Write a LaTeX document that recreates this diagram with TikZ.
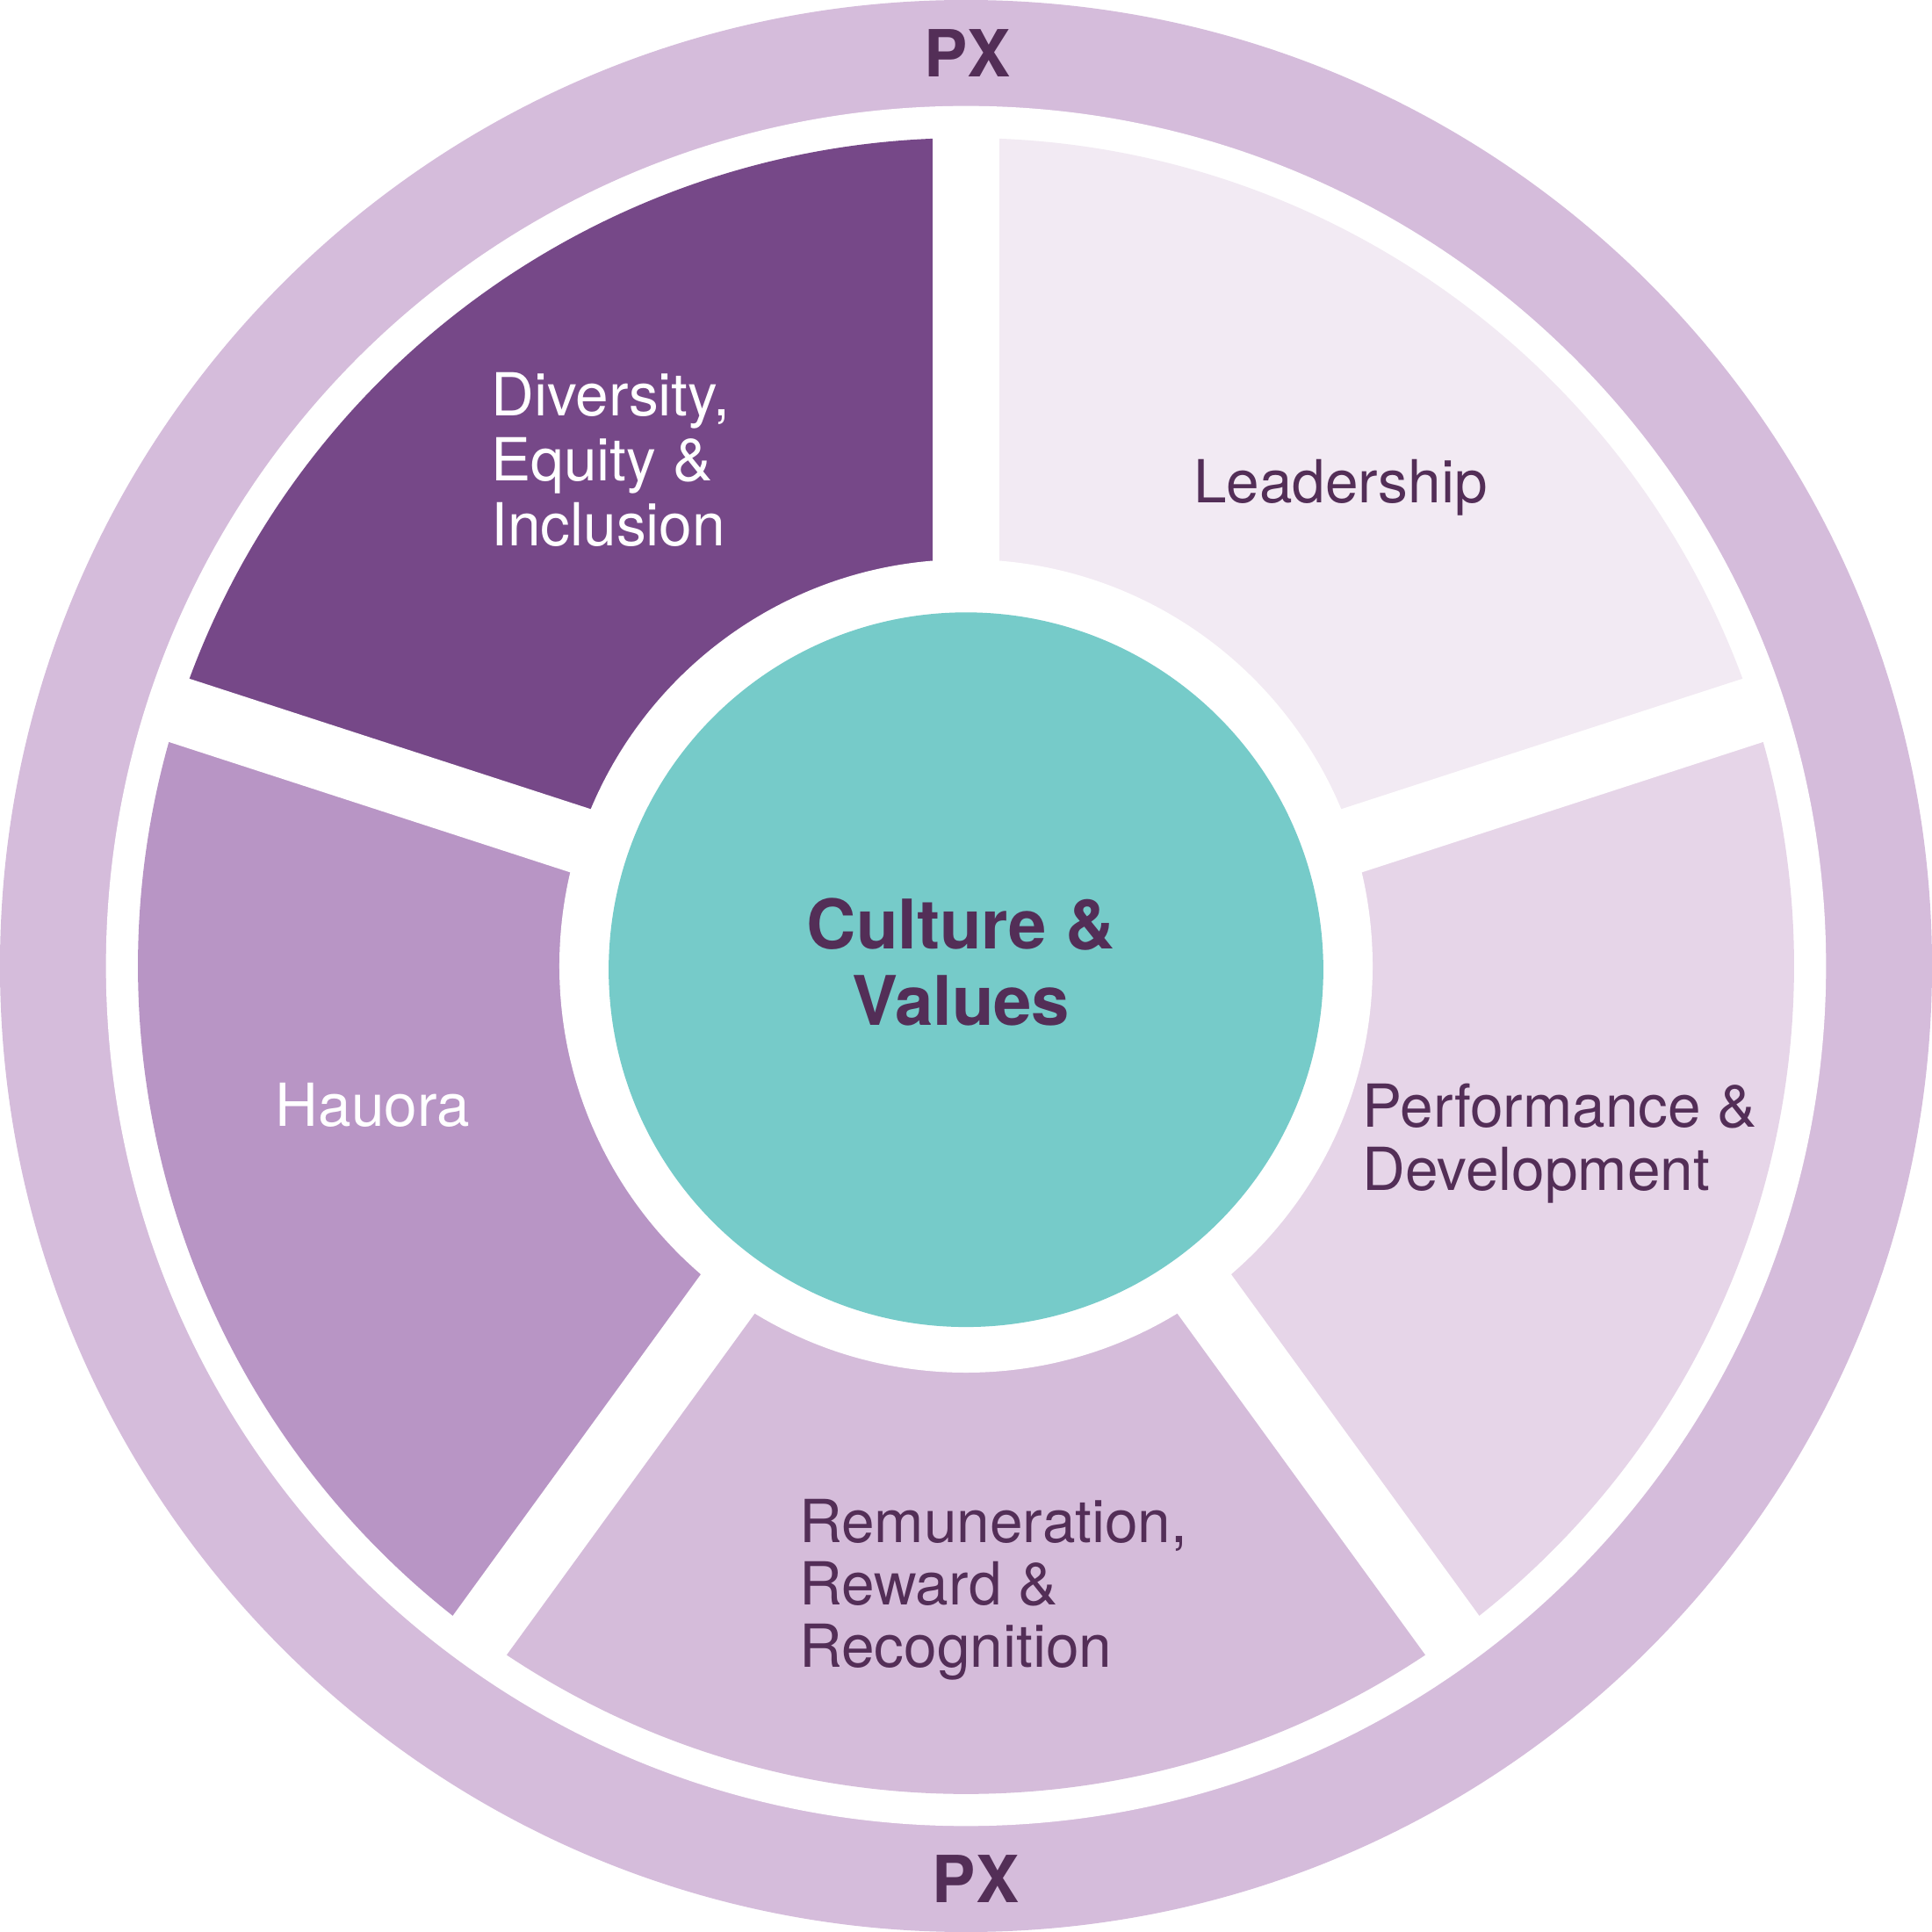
\documentclass[tikz,border=0pt]{standalone}
\usepackage{fontspec}
\setmainfont{TeX Gyre Heros}
\definecolor{ringc}{HTML}{D5BCDB}
\definecolor{deic}{HTML}{764888}
\definecolor{leadc}{HTML}{F2EAF3}
\definecolor{perfc}{HTML}{E6D5E8}
\definecolor{remc}{HTML}{D5BCDA}
\definecolor{hauc}{HTML}{B895C5}
\definecolor{tealc}{HTML}{76CBC9}
\definecolor{txtc}{HTML}{532E57}
\tikzset{
  seglabel/.style={inner sep=0pt, align=left, anchor=west, font=\fontsize{13.7}{15}\selectfont},
  pxlabel/.style={inner sep=0pt, text=txtc, font=\bfseries\fontsize{15}{17}\selectfont},
  gapline/.style={white, line width=0.54cm, line cap=butt}
}
\newcommand{\sector}[3]{\fill[#1] (0,0) -- (#2:6.72) arc[start angle=#2, end angle=#3, radius=6.72cm] -- cycle;}
\begin{document}
\begin{tikzpicture}
\useasboundingbox (-7.84,-7.84) rectangle (7.84,7.84);
% outer ring
\fill[ringc] (0,0) circle[radius=7.84cm];
\fill[white] (0,0) circle[radius=6.98cm];
% sectors
\sector{leadc}{18}{90}
\sector{deic}{90}{162}
\sector{hauc}{162}{234}
\sector{remc}{234}{306}
\sector{perfc}{306}{378}
% gaps
\foreach \a in {18,90,162,234,306} \draw[gapline] (0,0) -- (\a:6.9);
\fill[white] (0,0) circle[radius=3.30cm];
% centre
\fill[tealc] (0,-0.03) circle[radius=2.90cm];
% labels
\node[pxlabel] (pxtop) at (0.01,7.41) {PX};
\node[pxlabel] (pxbot) at (0.08,-7.41) {PX};
\node[seglabel, text=white] (dei) at (-3.86,4.11) {Diversity,\\Equity \&\\Inclusion};
\node[seglabel, text=txtc] (lead) at (1.84,3.88) {Leadership};
\node[seglabel, text=white] (hau) at (-5.61,-1.13) {Hauora};
\node[seglabel, text=txtc, font=\fontsize{13.7}{14.5}\selectfont] (perf) at (3.21,-1.44) {Performance \&\\Development};
\node[seglabel, text=txtc, font=\fontsize{13.7}{14.4}\selectfont] (rem) at (-1.36,-5.06) {Remuneration,\\Reward \&\\Recognition};
\node[inner sep=0pt, align=center, text=txtc, font=\bfseries\fontsize{15.8}{17.6}\selectfont] (cv) at (-0.04,0.03) {Culture \&\\Values};
\end{tikzpicture}
\end{document}
